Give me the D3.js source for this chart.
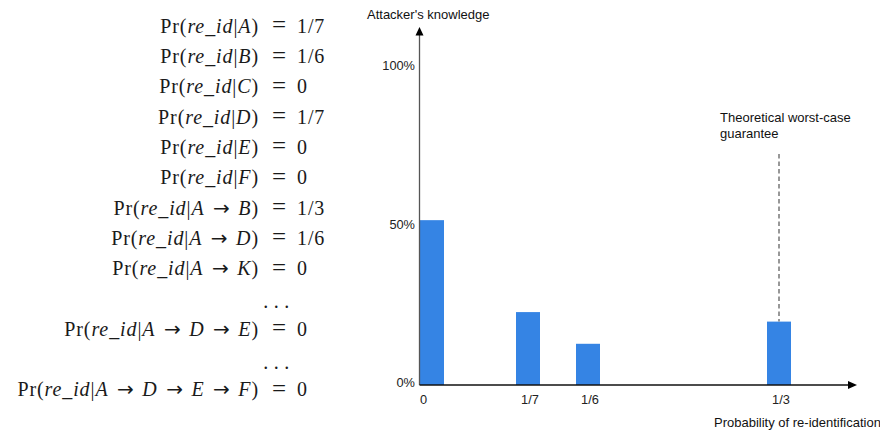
<!DOCTYPE html>
<html>
<head>
<meta charset="utf-8">
<script src="https://cdn.jsdelivr.net/npm/d3@7"></script>
<style>
  html, body { margin: 0; padding: 0; background: #fff; }
  svg { display: block; }
</style>
</head>
<body>
<svg id="chart" width="880" height="431"></svg>
<script>
// ---- Data ----
const conditions = [["A"],["B"],["C"],["D"],["E"],["F"],["A","B"],["A","D"],["A","K"],null,["A","D","E"],null,["A","D","E","F"]];
const probabilities = ["1/7","1/6","0","1/7","0","0","1/3","1/6","0",null,"0",null,"0"];

const barValues = [0, 1/7, 1/6, 1/3];          // probability of re-identification
const barLabels = ["0", "1/7", "1/6", "1/3"];
const knowledge = [52, 23, 13, 20];             // attacker's knowledge (%)
const yTicks = [0, 50, 100];
const worstCase = 1/3;

// ---- Setup ----
const svg = d3.select("#chart");
const serif = "'Liberation Serif', 'DejaVu Serif', serif";
const sans = "'Liberation Sans', Arial, Helvetica, sans-serif";

// ---- Equations (left) ----
const eqG = svg.append("g").attr("font-family", serif).attr("font-size", 20).attr("fill", "#1a1a1a");
const rowY = i => 32.7 + 30.3 * i;
conditions.forEach((cond, i) => {
  const y = rowY(i);
  if (cond === null) {
    eqG.append("text").attr("x", 279).attr("y", y + 3).attr("text-anchor", "middle")
      .attr("letter-spacing", "5.5px").text("...");
    return;
  }
  const t = eqG.append("text").attr("x", 259).attr("y", y).attr("text-anchor", "end")
    .attr("letter-spacing", "0.9px");
  t.append("tspan").text("Pr(");
  t.append("tspan").attr("font-style", "italic").text("re");
  t.append("tspan").text("_");
  t.append("tspan").attr("font-style", "italic").text("id");
  t.append("tspan").text("|");
  cond.forEach((c, k) => {
    if (k > 0) t.append("tspan").attr("dx", 8.5).attr("font-family", "'DejaVu Sans', sans-serif")
      .attr("font-size", 20).attr("letter-spacing", "0px").text("\u2192");
    t.append("tspan").attr("dx", k > 0 ? 8.5 : 0).attr("font-style", "italic").text(c);
  });
  t.append("tspan").text(")");
  eqG.append("text").attr("x", 279).attr("y", y + 0.5).attr("text-anchor", "middle")
    .attr("font-size", 25).text("=");
  eqG.append("text").attr("x", 297).attr("y", y).attr("letter-spacing", "0.9px").text(probabilities[i]);
});

// ---- Chart (right) ----
const x = d3.scaleLinear().domain(barValues).range([432, 528, 588, 779]);
const y = d3.scaleLinear().domain([0, 100]).range([385, 68]);
const barW = 24;

// bars
svg.append("g").selectAll("rect").data(barValues).join("rect")
  .attr("x", d => x(d) - barW / 2)
  .attr("y", (d, i) => y(knowledge[i]))
  .attr("width", barW)
  .attr("height", (d, i) => y(0) - y(knowledge[i]))
  .attr("fill", "#3584e4");

// y axis with arrow
const x0 = 419.5;
svg.append("line").attr("x1", x0).attr("x2", x0).attr("y1", 34).attr("y2", y(0))
  .attr("stroke", "#555").attr("stroke-width", 1.3);
svg.append("path").attr("d", `M${x0},27 L${x0 - 4},35.5 L${x0 + 4},35.5 Z`).attr("fill", "#000");

// x axis with arrow
svg.append("line").attr("x1", x0).attr("x2", 850).attr("y1", y(0)).attr("y2", y(0))
  .attr("stroke", "#111").attr("stroke-width", 1.3);
svg.append("path").attr("d", `M857,${y(0)} L848,${y(0) - 4} L848,${y(0) + 4} Z`).attr("fill", "#000");

// y tick labels
svg.append("g").attr("font-family", sans).attr("font-size", 12.8).attr("fill", "#222")
  .selectAll("text").data(yTicks).join("text")
  .attr("x", 415).attr("y", d => y(d) - 2).attr("dy", "0.35em")
  .attr("text-anchor", "end").text(d => d + "%");

// x tick labels
svg.append("g").attr("font-family", sans).attr("font-size", 12.8).attr("fill", "#222")
  .selectAll("text").data(barValues).join("text")
  .attr("x", d => d === 0 ? x(d) - barW / 2 + 3.5 : x(d) + 2)
  .attr("y", 404).attr("text-anchor", "middle")
  .text((d, i) => barLabels[i]);

// worst-case dashed line
const wi = barValues.indexOf(worstCase);
svg.append("line").attr("x1", x(worstCase)).attr("x2", x(worstCase))
  .attr("y1", 154).attr("y2", y(knowledge[wi]))
  .attr("stroke", "#777").attr("stroke-width", 1.5).attr("stroke-dasharray", "4.5,3");

// titles / annotations
const lab = svg.append("g").attr("font-family", sans).attr("font-size", 13).attr("fill", "#111");
lab.append("text").attr("x", 367).attr("y", 19).text("Attacker's knowledge");
lab.append("text").attr("x", 714).attr("y", 427).text("Probability of re-identification");
lab.append("text").attr("x", 720).attr("y", 122).text("Theoretical worst-case");
lab.append("text").attr("x", 720).attr("y", 138).text("guarantee");
</script>
</body>
</html>
